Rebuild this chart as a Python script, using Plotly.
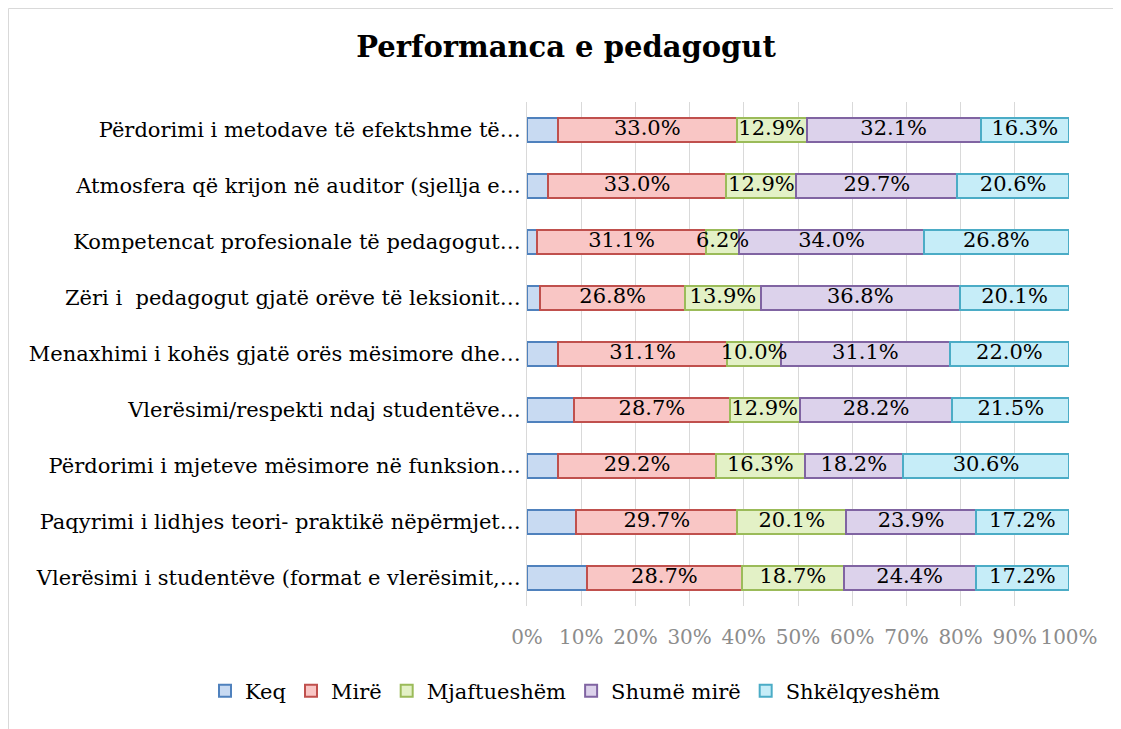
import plotly.graph_objects as go

categories = [
    "Vlerësimi i studentëve (format e vlerësimit,…",
    "Paqyrimi i lidhjes teori- praktikë nëpërmjet…",
    "Përdorimi i mjeteve mësimore në funksion…",
    "Vlerësimi/respekti ndaj studentëve…",
    "Menaxhimi i kohës gjatë orës mësimore dhe…",
    "Zëri i  pedagogut gjatë orëve të leksionit…",
    "Kompetencat profesionale të pedagogut…",
    "Atmosfera që krijon në auditor (sjellja e…",
    "Përdorimi i metodave të efektshme të…",
]

series_names = ["Keq", "Mirë", "Mjaftueshëm", "Shumë mirë", "Shkëlqyeshëm"]

keq = [11.0, 9.1, 5.7, 8.7, 5.8, 2.4, 1.9, 3.8, 5.7]
mire = [28.7, 29.7, 29.2, 28.7, 31.1, 26.8, 31.1, 33.0, 33.0]
mjaftueshem = [18.7, 20.1, 16.3, 12.9, 10.0, 13.9, 6.2, 12.9, 12.9]
shume_mire = [24.4, 23.9, 18.2, 28.2, 31.1, 36.8, 34.0, 29.7, 32.1]
shkelqyeshem = [17.2, 17.2, 30.6, 21.5, 22.0, 20.1, 26.8, 20.6, 16.3]

tick_vals = [0, 10, 20, 30, 40, 50, 60, 70, 80, 90, 100]
tick_text = ["0%", "10%", "20%", "30%", "40%", "50%", "60%", "70%", "80%", "90%", "100%"]

values = [keq, mire, mjaftueshem, shume_mire, shkelqyeshem]
fills = ["#c8daf2", "#f9c6c5", "#e3f1c6", "#dcd2eb", "#c6edf8"]
lines = ["#4f81bd", "#c0504d", "#9bbb59", "#8064a2", "#4bacc6"]
show_labels = [False, True, True, True, True]

FONT = "DejaVu Serif"
FS = 21
W, H = 1121, 729
OFF = 8  # page body margin offset

# plot area in page pixels
PL, PR, PT, PB = 527, 1069, 102, 606
ML, MR, MT, MB = PL - OFF, W - (PR - OFF), PT - OFF, H - (PB - OFF)
PW, PH = PR - PL, PB - PT

fig = go.Figure()
for name, vals, fc, lc in zip(series_names, values, fills, lines):
    fig.add_trace(go.Bar(
        y=categories,
        x=vals,
        name=name,
        orientation="h",
        marker=dict(color=fc, line=dict(color=lc, width=2)),
        width=0.44,
        hoverinfo="x+y+name",
    ))

# data labels drawn on top of all bars (centred on each stacked segment)
base = [0.0] * len(categories)
for name, vals, lab in zip(series_names, values, show_labels):
    mids = [b + v / 2 for b, v in zip(base, vals)]
    if lab:
        fig.add_trace(go.Scatter(
            y=categories,
            x=mids,
            mode="text",
            text=[f"{v:.1f}%" for v in vals],
            textposition="middle center",
            textfont=dict(family=FONT, size=FS, color="#000000"),
            showlegend=False,
            hoverinfo="skip",
            cliponaxis=False,
        ))
    base = [b + v for b, v in zip(base, vals)]

fig.update_layout(
    barmode="stack",
    width=W,
    height=H,
    margin=dict(l=ML, r=MR, t=MT, b=MB, autoexpand=False),
    paper_bgcolor="white",
    plot_bgcolor="white",
    font=dict(family=FONT, size=FS, color="#000000"),
    title=dict(
        text="<b>Performanca e pedagogut</b>",
        x=(566 - OFF) / W, xref="container", xanchor="center",
        y=1 - (47 - OFF) / H, yref="container", yanchor="middle",
        font=dict(family=FONT, size=29, color="#000000"),
    ),
    xaxis=dict(
        range=[0, 100],
        tickvals=tick_vals,
        ticktext=tick_text,
        tickangle=0,
        showgrid=True,
        gridcolor="#d9d9d9",
        gridwidth=1,
        zeroline=False,
        showline=False,
        ticks="",
        tickfont=dict(family=FONT, size=20, color="#8c8c8c"),
        ticklabelstandoff=17,
        fixedrange=True,
    ),
    yaxis=dict(
        categoryorder="array",
        categoryarray=categories,
        showline=True,
        linecolor="#d9d9d9",
        linewidth=1,
        showgrid=False,
        ticks="",
        ticklabelstandoff=1,
        tickfont=dict(family=FONT, size=FS, color="#000000"),
        fixedrange=True,
    ),
    legend=dict(
        orientation="h",
        x=(205 - PL) / PW, xref="paper", xanchor="left",
        y=-(691 - PB) / PH, yref="paper", yanchor="middle",
        font=dict(family=FONT, size=FS, color="#000000"),
        itemwidth=30,
        traceorder="normal",
    ),
    showlegend=True,
)

fig.add_shape(
    type="rect", xref="paper", yref="paper",
    x0=(OFF + 0.5 - PL) / PW, x1=(W + OFF + 20 - PL) / PW,
    y0=-(H + OFF + 20 - PB) / PH, y1=(PB - OFF - 0.5) / PH,
    line=dict(color="#d9d9d9", width=1),
    fillcolor="rgba(0,0,0,0)",
    layer="below",
)

fig.write_html("out.html")
